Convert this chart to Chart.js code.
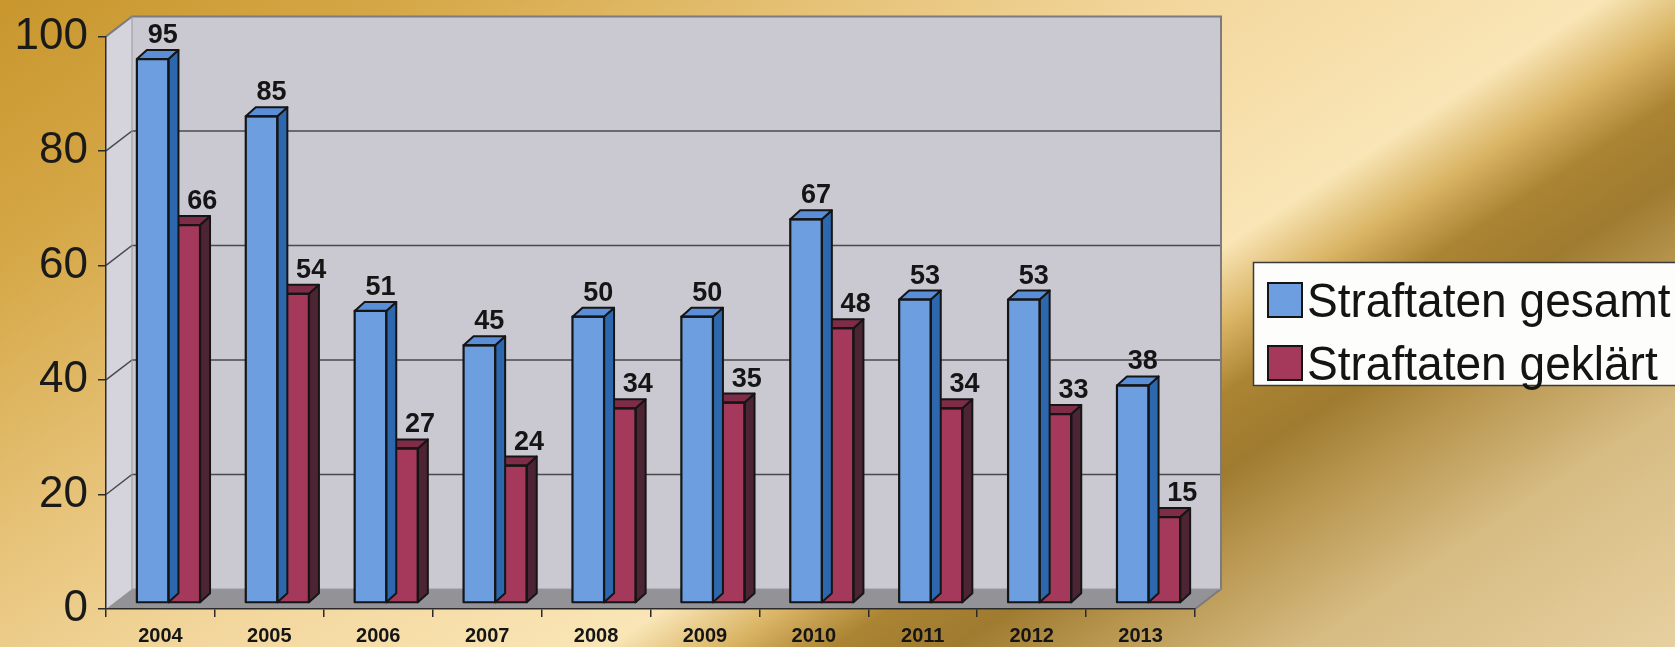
<!DOCTYPE html>
<html><head><meta charset="utf-8">
<script src="https://cdn.jsdelivr.net/npm/chart.js@4"></script>
<style>
html,body{margin:0;padding:0;width:1675px;height:647px;overflow:hidden;}
body{background: linear-gradient(147deg, #c8962d 0%, #d5a746 15%, #e6c277 31%, #f2d69c 44%, #f7dfab 53%, #f9e5b6 60%, #d9b464 64.5%, #ab8433 68.5%, #9f7b30 73%, #b8964f 78%, #d6bb82 86%, #e7d0a0 100%);}
canvas{display:block;}
</style></head><body>
<canvas id="c" width="1675" height="647"></canvas>
<script>
const years = ['2004','2005','2006','2007','2008','2009','2010','2011','2012','2013'];
const gesamt = [95, 85, 51, 45, 50, 50, 67, 53, 53, 38];
const geklaert = [66, 54, 27, 24, 34, 35, 48, 34, 33, 15];
const seriesNames = ['Straftaten gesamt', 'Straftaten geklärt'];
const yMin = 0, yMax = 100, yStep = 20;

const DEPTH = {dx: 26, dy: -20};
const BAR_SHIFT = {dx: 8, dy: -6};
const BAR_DEPTH = {dx: 10, dy: -9};
const EDGE = '#151515';

function poly(ctx, pts, fill, stroke, lw) {
  ctx.beginPath();
  ctx.moveTo(pts[0][0], pts[0][1]);
  for (let i = 1; i < pts.length; i++) ctx.lineTo(pts[i][0], pts[i][1]);
  ctx.closePath();
  if (fill) { ctx.fillStyle = fill; ctx.fill(); }
  if (stroke) { ctx.strokeStyle = stroke; ctx.lineWidth = lw || 1; ctx.lineJoin = 'round'; ctx.stroke(); }
}

const scene = {
  id: 'scene',
  beforeDraw(chart) {
    const {ctx, chartArea: a, scales: {y}} = chart;
    const L = a.left, R = a.right, T = a.top, B = a.bottom, dx = DEPTH.dx, dy = DEPTH.dy;
    ctx.save();
    poly(ctx, [[L+dx,T+dy],[R+dx,T+dy],[R+dx,B+dy],[L+dx,B+dy]], '#cac8d1');
    poly(ctx, [[L,T],[L+dx,T+dy],[L+dx,B+dy],[L,B]], '#d5d3db');
    poly(ctx, [[L,B],[L+dx,B+dy],[R+dx,B+dy],[R,B]], '#939296');
    ctx.lineWidth = 1.5;
    y.ticks.forEach(t => {
      if (t.value <= yMin || t.value >= yMax) return;
      const yy = y.getPixelForValue(t.value);
      ctx.strokeStyle = '#4a4a4e';
      ctx.beginPath();
      ctx.moveTo(L, yy); ctx.lineTo(L+dx, yy+dy); ctx.lineTo(R+dx, yy+dy);
      ctx.stroke();
    });
    ctx.strokeStyle = '#7c7b80';
    ctx.lineWidth = 2;
    ctx.beginPath();
    ctx.moveTo(L, T); ctx.lineTo(L+dx, T+dy); ctx.lineTo(R+dx, T+dy); ctx.lineTo(R+dx, B+dy); ctx.lineTo(R, B);
    ctx.stroke();
    ctx.strokeStyle = '#9a999e';
    ctx.lineWidth = 1;
    ctx.beginPath();
    ctx.moveTo(L+dx, T+dy); ctx.lineTo(L+dx, B+dy); ctx.lineTo(R+dx, B+dy);
    ctx.stroke();
    ctx.restore();
  }
};

const bars3d = {
  id: 'bars3d',
  beforeDatasetDraw(chart) {
    chart.ctx.save();
    chart.ctx.translate(BAR_SHIFT.dx, BAR_SHIFT.dy);
  },
  afterDatasetDraw(chart, args) {
    const ctx = chart.ctx;
    const ds = chart.data.datasets[args.index];
    const bx = BAR_DEPTH.dx, by = BAR_DEPTH.dy;
    args.meta.data.forEach(bar => {
      const p = bar.getProps(['x','y','base','width'], true);
      const l = p.x - p.width/2, r = p.x + p.width/2;
      poly(ctx, [[r,p.y],[r+bx,p.y+by],[r+bx,p.base+by],[r,p.base]], ds.sideColor, EDGE, 2);
      poly(ctx, [[l,p.y],[l+bx,p.y+by],[r+bx,p.y+by],[r,p.y]], ds.topColor, EDGE, 2);
      ctx.strokeStyle = EDGE; ctx.lineWidth = 2.2;
      ctx.strokeRect(l, p.y, p.width, p.base - p.y);
    });
    ctx.restore();
  }
};

const valueLabels = {
  id: 'valueLabels',
  afterDatasetsDraw(chart) {
    const ctx = chart.ctx;
    ctx.save();
    ctx.font = 'bold 27px "Liberation Sans", Arial, sans-serif';
    ctx.fillStyle = '#151515';
    ctx.textAlign = 'center';
    ctx.textBaseline = 'alphabetic';
    chart.data.datasets.forEach((ds, i) => {
      const xOff = i === 0 ? 10 : 18;
      chart.getDatasetMeta(i).data.forEach((bar, j) => {
        const p = bar.getProps(['x','y'], true);
        ctx.fillText(String(ds.data[j]), p.x + BAR_SHIFT.dx + xOff, p.y + BAR_SHIFT.dy - 16);
      });
    });
    ctx.restore();
  }
};

const legendBox = {
  id: 'legendBox',
  afterDraw(chart) {
    const ctx = chart.ctx;
    ctx.save();
    ctx.fillStyle = '#fdfdfb';
    ctx.fillRect(1253, 262, 430, 123);
    ctx.strokeStyle = '#3a3a3a'; ctx.lineWidth = 1.5;
    ctx.strokeRect(1253.5, 262.5, 430, 123);
    const rows = [300, 363];
    chart.data.datasets.forEach((ds, i) => {
      const cy = rows[i];
      ctx.fillStyle = ds.backgroundColor;
      ctx.fillRect(1267, cy - 18, 36, 36);
      ctx.strokeStyle = EDGE; ctx.lineWidth = 2;
      ctx.strokeRect(1268, cy - 17, 34, 34);
      ctx.save();
      ctx.translate(1307, cy + 17);
      ctx.scale(0.94, 1);
      ctx.font = '49px "Liberation Sans", Arial, sans-serif';
      ctx.fillStyle = '#141414';
      ctx.textBaseline = 'alphabetic';
      ctx.textAlign = 'left';
      ctx.fillText(ds.label, 0, 0);
      ctx.restore();
    });
    ctx.restore();
  }
};

new Chart(document.getElementById('c'), {
  type: 'bar',
  data: {
    labels: years,
    datasets: [
      { label: seriesNames[0], data: gesamt, backgroundColor: '#6c9ee0', sideColor: '#2d67ad', topColor: '#5a8fd8',
        borderColor: EDGE, borderWidth: 0, categoryPercentage: 0.58, barPercentage: 1.0 },
      { label: seriesNames[1], data: geklaert, backgroundColor: '#a4395b', sideColor: '#4d2434', topColor: '#7f2c48',
        borderColor: EDGE, borderWidth: 0, categoryPercentage: 0.58, barPercentage: 1.0 }
    ]
  },
  options: {
    responsive: false,
    animation: false,
    devicePixelRatio: 1,
    layout: { padding: { left: 0, right: 480, top: 33, bottom: 0 } },
    plugins: { legend: { display: false }, tooltip: { enabled: false } },
    datasets: { bar: { clip: false } },
    scales: {
      x: {
        grid: { offset: true, drawOnChartArea: false, drawTicks: true, tickLength: 8, color: '#2a2a2a', lineWidth: 1.5 },
        border: { display: true, color: '#2a2a2a', width: 1.5 },
        ticks: { color: '#151515', font: { family: '"Liberation Sans", Arial, sans-serif', size: 20, weight: 'bold' }, padding: 7, maxRotation: 0 },
        afterFit(scale) { scale.height = 38; }
      },
      y: {
        min: yMin, max: yMax,
        grid: { drawOnChartArea: false, drawTicks: true, tickLength: 8, color: '#2a2a2a', lineWidth: 1.5 },
        border: { display: true, color: '#2a2a2a', width: 1.5 },
        ticks: { stepSize: yStep, color: '#1a1a1a', font: { family: '"Liberation Sans", Arial, sans-serif', size: 44 }, padding: 10 },
        afterFit(scale) { scale.width = 106; }
      }
    }
  },
  plugins: [scene, bars3d, valueLabels, legendBox]
});
</script>
</body></html>
